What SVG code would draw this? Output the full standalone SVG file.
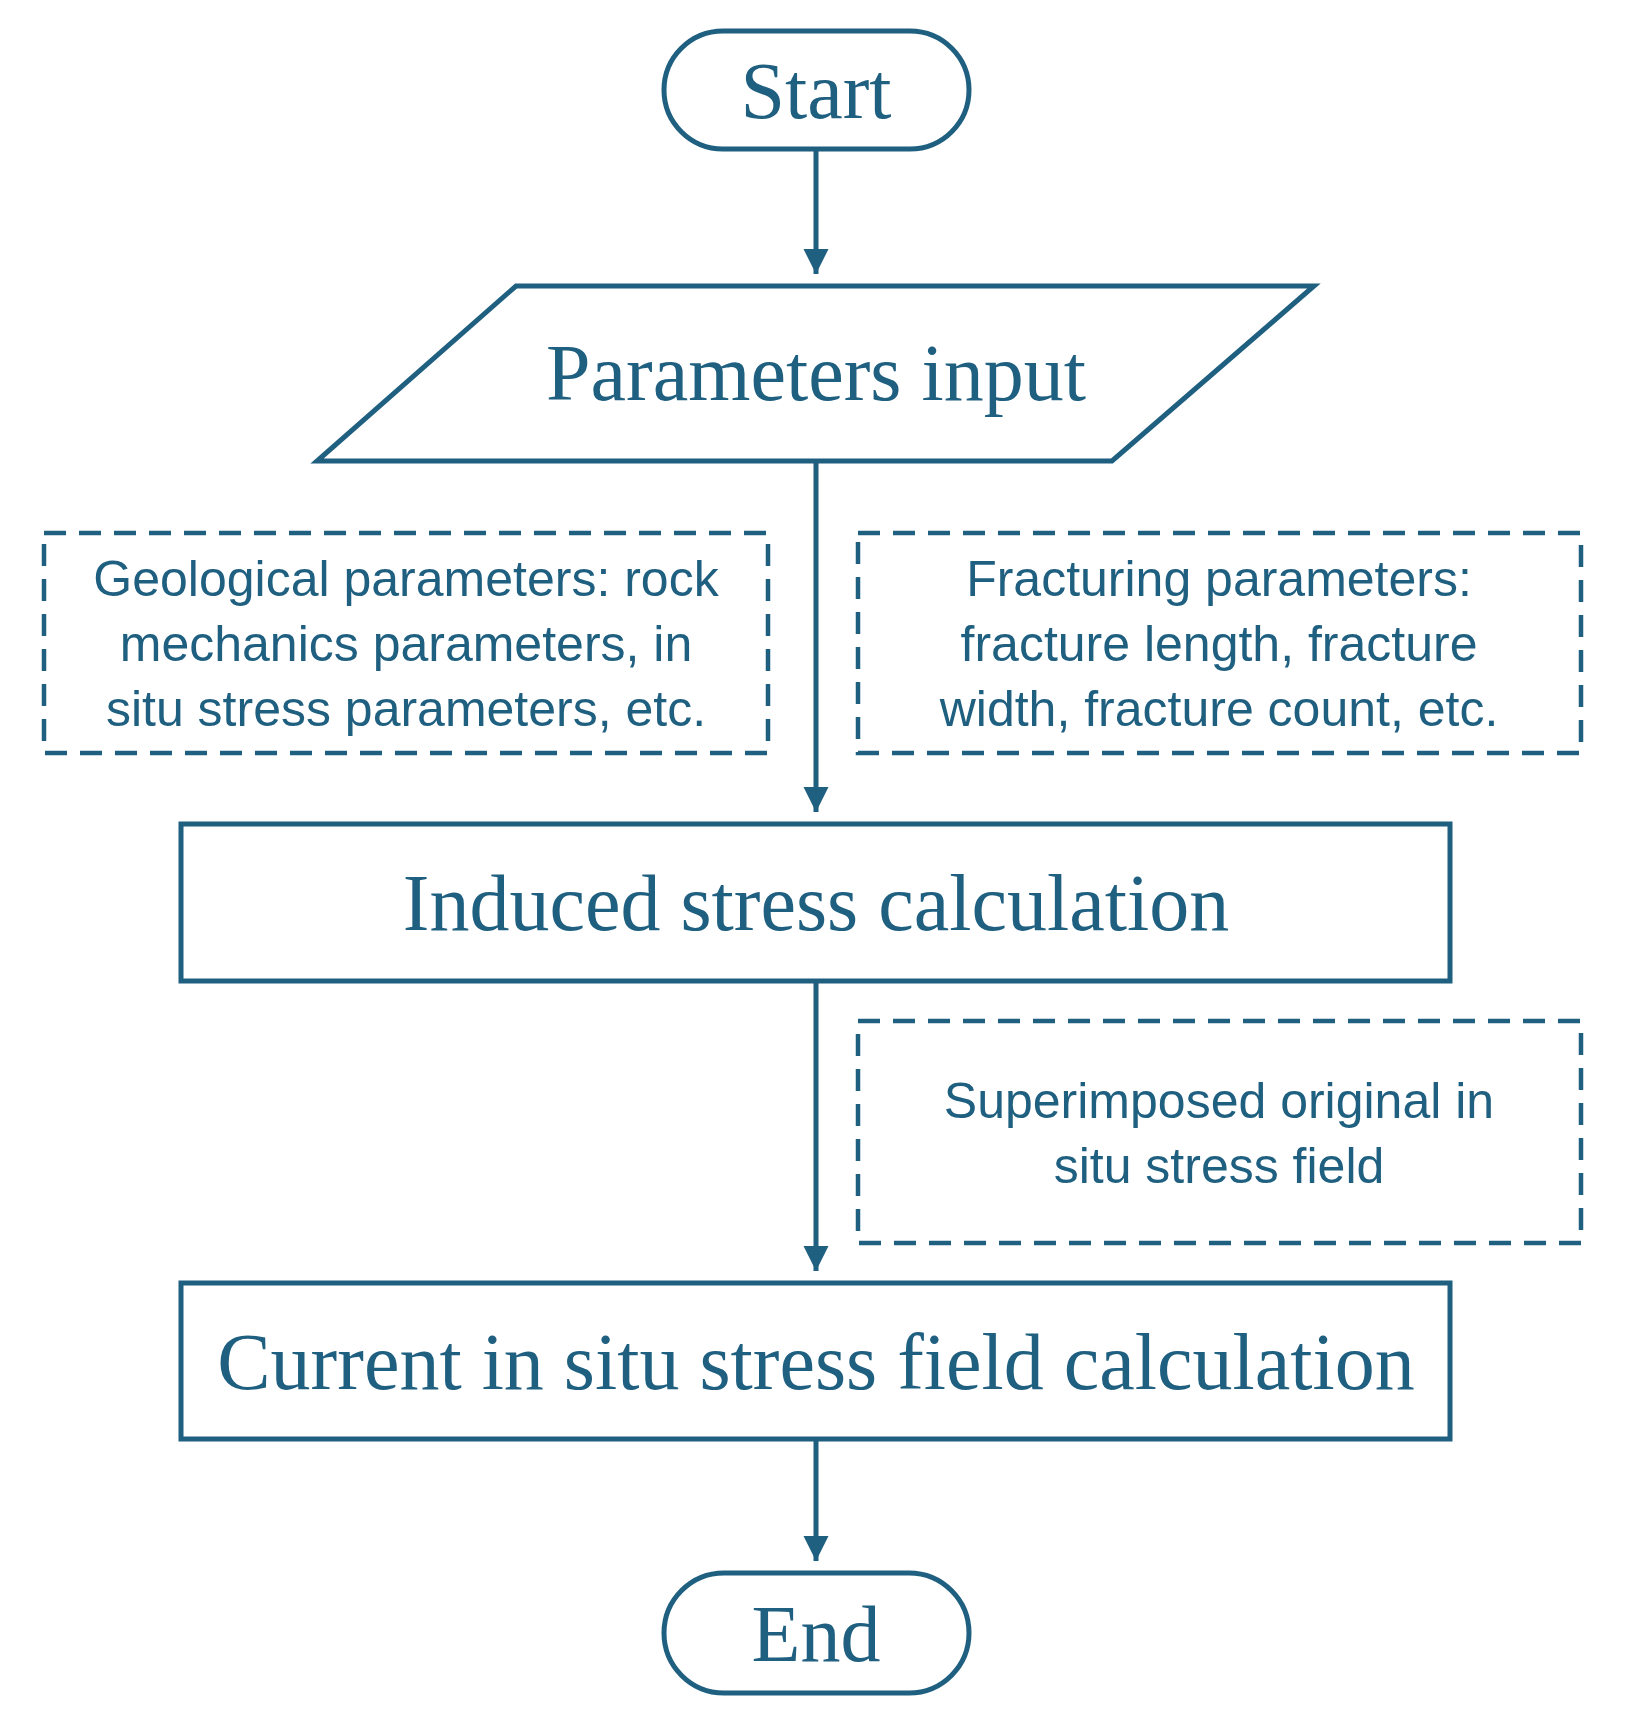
<svg xmlns="http://www.w3.org/2000/svg" width="1638" height="1726" viewBox="0 0 1638 1726">
<style>
.s{fill:#fff;stroke:#1f5f80;stroke-width:5}
.d{fill:none;stroke:#1f5f80;stroke-width:4.5;stroke-dasharray:22 13}
.t{font-family:"Liberation Serif",serif;font-size:80px;fill:#1f5f80;text-anchor:middle}
.n{font-family:"Liberation Sans",sans-serif;font-size:50px;fill:#1f5f80;text-anchor:middle}
.c{stroke:#1f5f80;stroke-width:5;fill:none;marker-end:url(#a)}
</style>
<defs><marker id="a" markerWidth="6" markerHeight="6" refX="5" refY="2.5" orient="auto" markerUnits="strokeWidth"><path d="M0,0 L5,2.5 L0,5 z" fill="#1f5f80"/></marker></defs>
<rect width="1638" height="1726" fill="#fff"/>
<g id="connectors">
<line class="c" x1="816" y1="149" x2="816" y2="274"/>
<line class="c" x1="816" y1="461" x2="816" y2="812"/>
<line class="c" x1="816" y1="981" x2="816" y2="1271"/>
<line class="c" x1="816" y1="1439" x2="816" y2="1561"/>
</g>
<g id="start"><rect class="s" x="664" y="31" width="305" height="118" rx="59"/><text class="t" x="816" y="118">Start</text></g>
<g id="input"><polygon class="s" points="516,286 1314,286 1112,461 317,461"/><text class="t" x="816" y="400">Parameters input</text></g>
<g id="geo"><rect class="d" x="44" y="533" width="724" height="220"/><text class="n" x="406" y="596">Geological parameters: rock</text><text class="n" x="406" y="661">mechanics parameters, in</text><text class="n" x="406" y="726">situ stress parameters, etc.</text></g>
<g id="frac"><rect class="d" x="858" y="533" width="723" height="220"/><text class="n" x="1219" y="596">Fracturing parameters:</text><text class="n" x="1219" y="661">fracture length, fracture</text><text class="n" x="1219" y="726">width, fracture count, etc.</text></g>
<g id="induced"><rect class="s" x="181" y="824" width="1269" height="157"/><text class="t" x="816" y="930">Induced stress calculation</text></g>
<g id="super"><rect class="d" x="858" y="1021" width="723" height="222"/><text class="n" x="1219" y="1118">Superimposed original in</text><text class="n" x="1219" y="1183">situ stress field</text></g>
<g id="current"><rect class="s" x="181" y="1283" width="1269" height="156"/><text class="t" x="816" y="1389">Current in situ stress field calculation</text></g>
<g id="end"><rect class="s" x="664" y="1573" width="305" height="120" rx="60"/><text class="t" x="816" y="1661">End</text></g>
</svg>
